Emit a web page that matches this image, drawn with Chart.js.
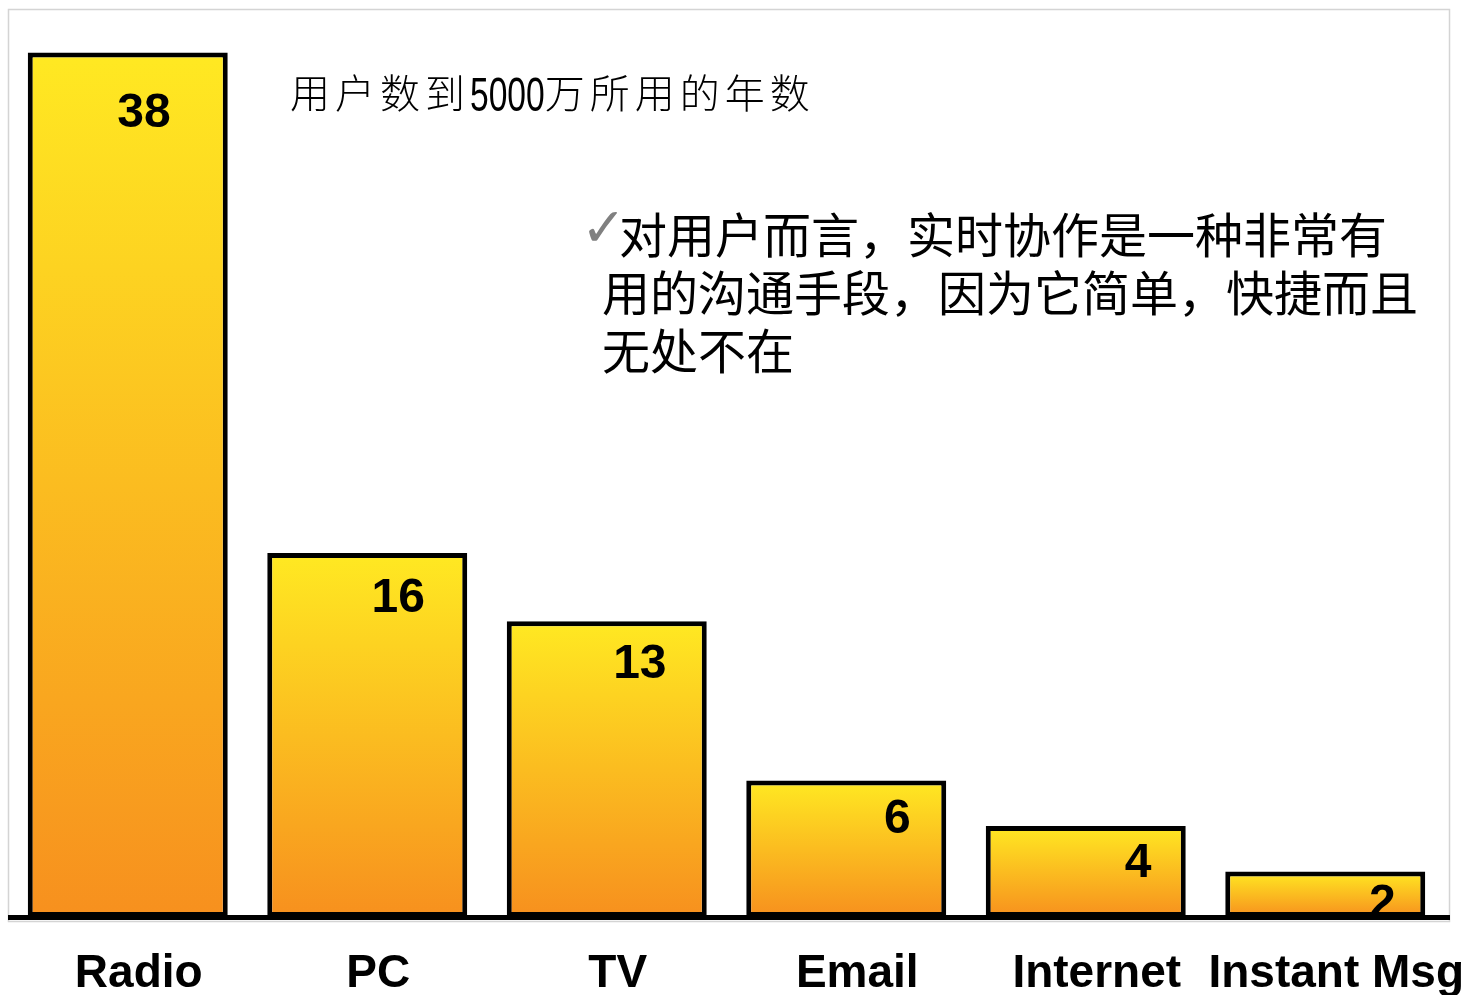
<!DOCTYPE html>
<html>
<head>
<meta charset="utf-8">
<script src="https://cdn.jsdelivr.net/npm/chart.js@4.4.0/dist/chart.umd.min.js"></script>
<style>
  body { margin: 0; background: #fff; }
  canvas { display: block; }
</style>
</head>
<body>
<canvas id="yearsChart" width="1466" height="995"></canvas>
<script>
// years to reach 50 million users
const categories = ['Radio', 'PC', 'TV', 'Email', 'Internet', 'Instant Msg'];
const years = [38, 16, 13, 6, 4, 2];
const yMax = 40;

const titleParts = ['用户数到', '5000', '万所用的年数'];
const noteLines = ['对用户而言，实时协作是一种非常有', '用的沟通手段，因为它简单，快捷而且', '无处不在'];

const colorTop = '#FFE922';
const colorBottom = '#F7901E';
const cjkFont = '"Noto Sans CJK SC", sans-serif';
const latinFont = '"Liberation Sans", Arial, sans-serif';

// frame, baseline, value labels and the text blocks
const decorPlugin = {
  id: 'decor',
  beforeDraw(chart) {
    const c = chart.ctx;
    c.save();
    c.strokeStyle = '#d4d4d4';
    c.lineWidth = 1.5;
    c.strokeRect(8.5, 9.5, 1441, 912);
    c.restore();
  },
  afterDatasetsDraw(chart) {
    const c = chart.ctx;
    const area = chart.chartArea;
    c.save();
    c.fillStyle = '#000';
    c.fillRect(8, area.bottom - 2, 1442, 5);

    // values, placed towards the top right corner of each bar
    c.font = 'bold 48px ' + latinFont;
    c.textAlign = 'right';
    c.textBaseline = 'alphabetic';
    chart.getDatasetMeta(0).data.forEach((bar, i) => {
      const h = bar.base - bar.y;
      const d = Math.min(31.5 + 0.0295 * h, h - 16);
      c.fillText(String(years[i]), bar.x + bar.width / 2 - d, bar.y + d + 17);
    });

    // title
    c.fillStyle = '#000';
    c.textAlign = 'left';
    c.textBaseline = 'middle';
    c.font = '300 40px ' + cjkFont;
    c.letterSpacing = '5px';
    let x = 290;
    c.fillText(titleParts[0], x, 93);
    x += c.measureText(titleParts[0]).width;
    c.letterSpacing = '0px';
    c.save();
    c.font = '48px ' + latinFont;
    c.translate(x, 0);
    c.scale(0.7, 1);
    c.textBaseline = 'alphabetic';
    c.fillText(titleParts[1], 0, 111);
    const numW = c.measureText(titleParts[1]).width * 0.7;
    c.restore();
    x += numW;
    c.font = '300 40px ' + cjkFont;
    c.letterSpacing = '5px';
    c.fillText(titleParts[2], x, 93);
    c.letterSpacing = '0px';

    // note with check mark
    c.fillStyle = '#808080';
    c.font = 'bold 54px "DejaVu Sans", sans-serif';
    c.fillText('✓', 581, 232);
    c.fillStyle = '#000';
    c.font = '400 48px ' + cjkFont;
    c.fillText(noteLines[0], 619, 235);
    c.fillText(noteLines[1], 602, 293);
    c.fillText(noteLines[2], 602, 351);
    c.restore();
  }
};

new Chart(document.getElementById('yearsChart'), {
  type: 'bar',
  data: {
    labels: categories,
    datasets: [{
      data: years,
      backgroundColor: (ctx) => {
        const chart = ctx.chart;
        const area = chart.chartArea;
        if (!area || ctx.raw === undefined) return colorTop;
        const top = chart.scales.y.getPixelForValue(ctx.raw);
        const g = chart.ctx.createLinearGradient(0, top, 0, area.bottom);
        g.addColorStop(0, colorTop);
        g.addColorStop(1, colorBottom);
        return g;
      },
      borderColor: '#000',
      borderWidth: 5,
      borderSkipped: false,
      barPercentage: 0.835,
      categoryPercentage: 1
    }]
  },
  options: {
    responsive: false,
    animation: false,
    layout: { padding: { left: 8, right: 21, top: 7, bottom: 0 } },
    plugins: {
      legend: { display: false },
      tooltip: { enabled: false }
    },
    scales: {
      x: {
        grid: { display: false, drawTicks: false },
        border: { display: false },
        ticks: {
          color: '#000',
          font: { family: latinFont, size: 46, weight: 'bold' },
          padding: 30,
          labelOffset: 11,
          maxRotation: 0,
          autoSkip: false
        },
        afterFit(scale) {
          scale.height = 78;
          scale.paddingLeft = 0;
          scale.paddingRight = 0;
        }
      },
      y: {
        display: false,
        min: 0,
        max: yMax
      }
    }
  },
  plugins: [decorPlugin]
});
</script>
</body>
</html>
